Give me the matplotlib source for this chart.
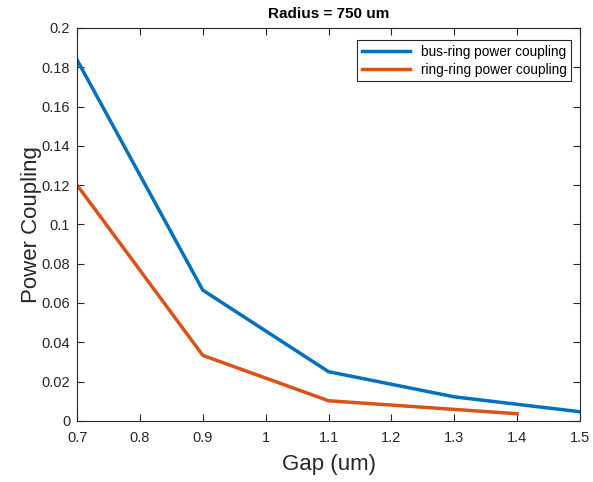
import matplotlib.pyplot as plt

plt.rcParams['font.family'] = ['Liberation Sans', 'DejaVu Sans']

gap_bus = [0.7, 0.9, 1.1, 1.3, 1.5]
bus_ring = [0.1837, 0.0665, 0.0250, 0.0122, 0.0046]
gap_ring = [0.7, 0.9, 1.1, 1.3, 1.4]
ring_ring = [0.120, 0.0333, 0.0102, 0.0058, 0.0036]

fig = plt.figure(figsize=(5.93, 4.82), dpi=100)
ax = fig.add_axes([0.130, 0.127, 0.848, 0.815])

ax.plot(gap_bus, bus_ring, color='#0072BD', linewidth=2.5, label='bus-ring power coupling')
ax.plot(gap_ring, ring_ring, color='#D95319', linewidth=2.5, label='ring-ring power coupling')

ax.set_xlim(0.7, 1.5)
ax.set_ylim(0, 0.2)
ax.set_xticks([0.7, 0.8, 0.9, 1.0, 1.1, 1.2, 1.3, 1.4, 1.5])
ax.set_xticklabels(['0.7', '0.8', '0.9', '1', '1.1', '1.2', '1.3', '1.4', '1.5'])
ax.set_yticks([0, 0.02, 0.04, 0.06, 0.08, 0.1, 0.12, 0.14, 0.16, 0.18, 0.2])
ax.set_yticklabels(['0', '0.02', '0.04', '0.06', '0.08', '0.1', '0.12', '0.14', '0.16', '0.18', '0.2'])
ax.tick_params(direction='in', top=True, right=True, labelsize=10.5, length=5, colors='#262626')
ax.tick_params(axis='x', pad=7)
ax.tick_params(axis='y', pad=5)
for s in ax.spines.values():
    s.set_color('#262626')
    s.set_linewidth(0.8)

ax.set_xlabel('Gap (um)', fontsize=16, color='#262626', labelpad=7)
ax.set_ylabel('Power Coupling', fontsize=16, color='#262626', labelpad=0)
ax.set_title('Radius = 750 um', fontsize=11, fontweight='bold', pad=7)

leg = ax.legend(loc='upper right', bbox_to_anchor=(0.983, 0.97), fontsize=9.8,
                fancybox=False, framealpha=1, edgecolor='#262626', borderaxespad=0,
                handlelength=3.5, borderpad=0.35, labelspacing=0.3)
leg.get_frame().set_linewidth(0.8)

fig.savefig('out.png', dpi=100)
